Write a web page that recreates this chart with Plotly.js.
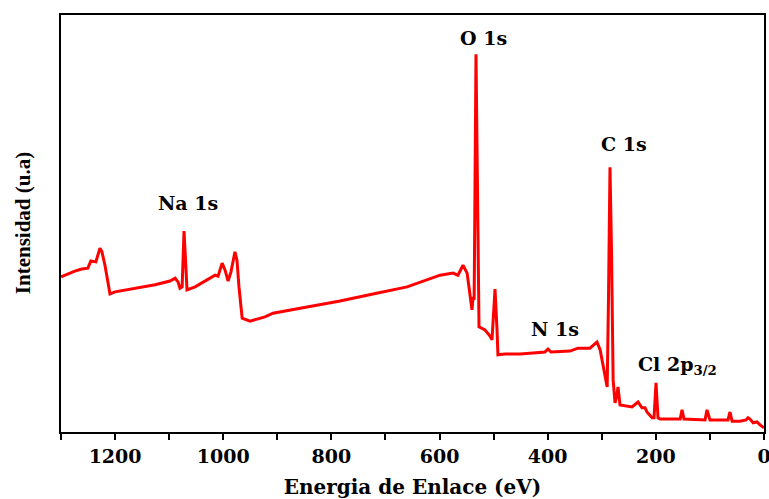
<!DOCTYPE html>
<html>
<head>
<meta charset="utf-8">
<script src="https://cdn.plot.ly/plotly-3.0.1.min.js"></script>
<style>html,body{margin:0;padding:0;background:#fff;}#chart{width:769px;height:499px;}</style>
</head>
<body>
<div id="chart"></div>
<script>
// Binding energy (eV) and intensity (a.u.)
const energy = [1300, 1293, 1274.5, 1261.6, 1250.3, 1244.8, 1235.5, 1228, 1224.3, 1218.7, 1209.4, 1200, 1163, 1126, 1098.4, 1089, 1083.6, 1080, 1076, 1072.5, 1068.8, 1067, 1052, 1028, 1015, 1009.5, 1002, 996.6, 991, 985.7, 978.3, 974.6, 970.9, 965, 958, 950.5, 922.8, 908, 845, 784, 723, 660, 599, 575, 566, 556.6, 549, 543.4, 540, 538, 536, 532.6, 528.9, 527, 516, 506.7, 503, 501, 497.4, 493.7, 492, 479, 451, 432.7, 405, 399.4, 394, 358.8, 344, 321.8, 308.8, 303, 296, 290, 287.6, 284.8, 282, 279, 275.5, 271.8, 270, 266.3, 244, 233, 225.6, 220, 216.4, 207, 203.4, 199.7, 196, 192.3, 164.6, 155, 151.6, 148, 109, 105.4, 100, 66.6, 62.9, 59, 44.4, 33, 29.6, 26, 20, 13, 7.4, 0];
const intensity = [37.2, 37.6, 38.6, 39.1, 39.3, 41.0, 40.8, 44.1, 43.2, 40.0, 33.1, 33.6, 34.5, 35.3, 36.2, 36.9, 36.0, 34.5, 34.8, 48.2, 38.8, 34.1, 34.8, 36.5, 37.6, 37.4, 40.5, 38.8, 36.2, 38.4, 43.2, 41.2, 34.8, 27.3, 26.9, 26.6, 27.6, 28.5, 30.0, 31.4, 33.1, 34.8, 37.6, 38.1, 37.6, 40.0, 38.1, 32.9, 29.3, 32.4, 31.7, 90.6, 41.2, 25.2, 24.5, 23.0, 22.1, 26.9, 34.3, 24.5, 18.5, 18.7, 18.7, 18.9, 19.2, 19.9, 19.2, 19.4, 20.1, 20.1, 21.6, 19.7, 14.4, 10.8, 31.7, 63.5, 43.6, 12.5, 7.0, 8.9, 10.8, 6.5, 6.0, 7.2, 5.8, 5.8, 4.8, 3.4, 3.4, 11.8, 3.4, 3.1, 3.1, 3.1, 5.3, 3.1, 2.9, 5.3, 2.9, 2.9, 4.8, 2.6, 2.6, 2.9, 3.4, 3.1, 2.2, 2.4, 1.7, 1.0];

// Tick labels (major) and unlabeled minor ticks
const tickValues = [1200, 1000, 800, 600, 400, 200, 0];
const tickLabels = ["1200", "1000", "800", "600", "400", "200", "0"];
const minorTickValues = [1300, 1100, 900, 700, 500, 300, 100];

// Peak labels
const peakLabels = ["O 1s", "C 1s", "Na 1s", "N 1s", "Cl 2p<sub>3/2</sub>"];
const peakLabelX = [518, 259, 1065, 386.5, 236];
const peakLabelY = [94.5, 69, 55, 24.7, 16];

const axisTitleX = "Energia de Enlace (eV)";
const axisTitleY = "Intensidad (u.a)";

const serif = "DejaVu Serif, serif";
const annotations = peakLabels.map((t, i) => ({
  text: "<b>" + t + "</b>",
  x: peakLabelX[i], y: peakLabelY[i], xref: "x", yref: "y",
  xanchor: i === 4 ? "left" : "center", yanchor: "middle",
  showarrow: false,
  font: {family: serif, size: 19, color: "#000"}
}));
annotations.push({
  text: "<b>" + axisTitleY + "</b>",
  xref: "paper", yref: "paper", x: -0.0545, y: 0.5,
  xanchor: "center", yanchor: "middle", textangle: -90, showarrow: false,
  font: {family: "Liberation Serif, serif", size: 21, color: "#000"}
});

const trace = {
  x: energy, y: intensity, type: "scatter", mode: "lines",
  line: {color: "#ff0000", width: 3}, hoverinfo: "x+y"
};

const layout = {
  width: 769, height: 499,
  margin: {l: 61, r: 5, t: 15, b: 67},
  paper_bgcolor: "#fff", plot_bgcolor: "#fff",
  showlegend: false,
  xaxis: {
    range: [1300, 0], autorange: false,
    tickmode: "array", tickvals: tickValues, ticktext: tickLabels,
    ticks: "outside", ticklen: 6, tickwidth: 2, tickcolor: "#000",
    minor: {tickmode: "array", tickvals: minorTickValues, ticks: "outside", ticklen: 6, tickwidth: 2, tickcolor: "#000", showgrid: false},
    ticklabeloverflow: "allow",
    showline: true, linewidth: 2, linecolor: "#000", mirror: true,
    showgrid: false, zeroline: false,
    automargin: false,
    tickfont: {family: serif, size: 19, color: "#000", weight: "bold"},
    title: {text: "<b>" + axisTitleX + "</b>", font: {family: serif, size: 20, color: "#000"}}
  },
  yaxis: {
    range: [0, 100], autorange: false,
    showticklabels: false, ticks: "",
    showline: true, linewidth: 2, linecolor: "#000", mirror: true,
    showgrid: false, zeroline: false
  },
  annotations: annotations
};

Plotly.newPlot("chart", [trace], layout, {displayModeBar: false});
</script>
</body>
</html>
